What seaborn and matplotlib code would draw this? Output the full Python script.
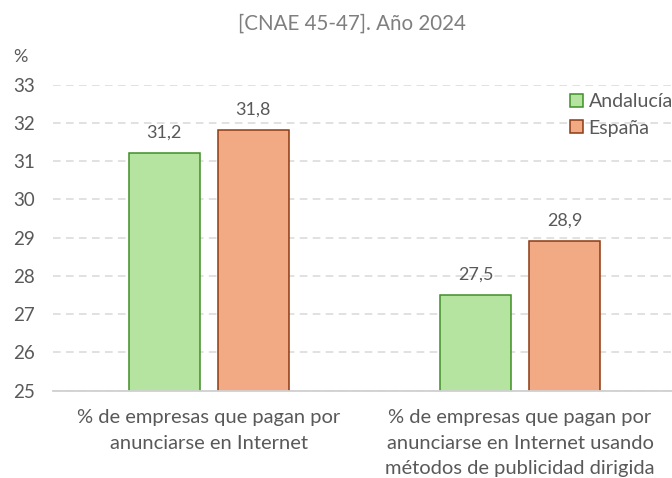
import matplotlib
matplotlib.use("Agg")
import matplotlib.pyplot as plt
import seaborn as sns
import pandas as pd
from matplotlib.patches import Patch

categories = [
    "% de empresas que pagan por\nanunciarse en Internet",
    "% de empresas que pagan por\nanunciarse en Internet usando\nmétodos de publicidad dirigida",
]
series_names = ["Andalucía", "España"]
andalucia = [31.2, 27.5]
espana = [31.8, 28.9]
title = "[CNAE 45-47]. Año 2024"
y_ticks = [25, 26, 27, 28, 29, 30, 31, 32, 33]

fills = {"Andalucía": "#B5E4A1", "España": "#F2AA84"}
edges = {"Andalucía": "#3F8F26", "España": "#8B3B12"}

df = pd.DataFrame({
    "cat": categories * 2,
    "serie": [series_names[0]] * 2 + [series_names[1]] * 2,
    "val": andalucia + espana,
})

sns.set_theme(style="white")
plt.rcParams["font.family"] = ["Lato", "DejaVu Sans"]
txt = "#595959"

fig = plt.figure(figsize=(6.72, 4.78), dpi=100)
ax = fig.add_axes([53 / 672, 1 - 390.7 / 478, (675.8 - 53) / 672, (390.7 - 84.5) / 478])

sns.barplot(data=df, x="cat", y="val", hue="serie", hue_order=series_names,
            palette=fills, saturation=1, width=0.57, gap=0.2, legend=False, ax=ax,
            linewidth=1.1, edgecolor="k")

for cont, name in zip(ax.containers, series_names):
    for p in cont:
        p.set_edgecolor(edges[name])
        p.set_linewidth(1.1)
    ax.bar_label(cont, labels=[f"{v:.1f}".replace(".", ",") for v in cont.datavalues],
                 padding=9, fontsize=13, color=txt)

ax.set_ylim(25, 33)
ax.set_xlim(-0.5, 1.5)
ax.set_yticks(y_ticks)
ax.set_yticklabels([str(t) for t in y_ticks])
ax.set_xlabel("")
ax.set_ylabel("")
ax.yaxis.grid(True, color="#D9D9D9", linestyle=(0, (5, 3.5)), linewidth=1.1)
ax.set_axisbelow(True)
for s in ["left", "right", "top"]:
    ax.spines[s].set_visible(False)
ax.spines["bottom"].set_color("#D0D0D0")
ax.spines["bottom"].set_linewidth(1.3)
ax.tick_params(axis="y", length=0, pad=13, labelsize=13.5, labelcolor=txt)
ax.tick_params(axis="x", length=0, pad=13.5, labelsize=14.5, labelcolor=txt)
for lbl in ax.get_xticklabels():
    lbl.set_linespacing(1.6)

fig.text(352 / 672, 1 - 30 / 478, title, ha="center", va="baseline",
         fontsize=14.8, color="#7F7F7F")
fig.text(13 / 672, 1 - 62 / 478, "%", ha="left", va="baseline",
         fontsize=13, color=txt)

handles = [Patch(facecolor=fills[n], edgecolor=edges[n], linewidth=1.1, label=n)
           for n in series_names]
leg = fig.legend(handles=handles, loc="upper left",
                 bbox_to_anchor=(570 / 672, 1 - 93 / 478), frameon=False,
                 fontsize=14, handlelength=0.65, handleheight=0.65,
                 handletextpad=0.3, labelspacing=0.5, borderpad=0, borderaxespad=0)
for t in leg.get_texts():
    t.set_color(txt)

fig.savefig("out.png", dpi=100)
